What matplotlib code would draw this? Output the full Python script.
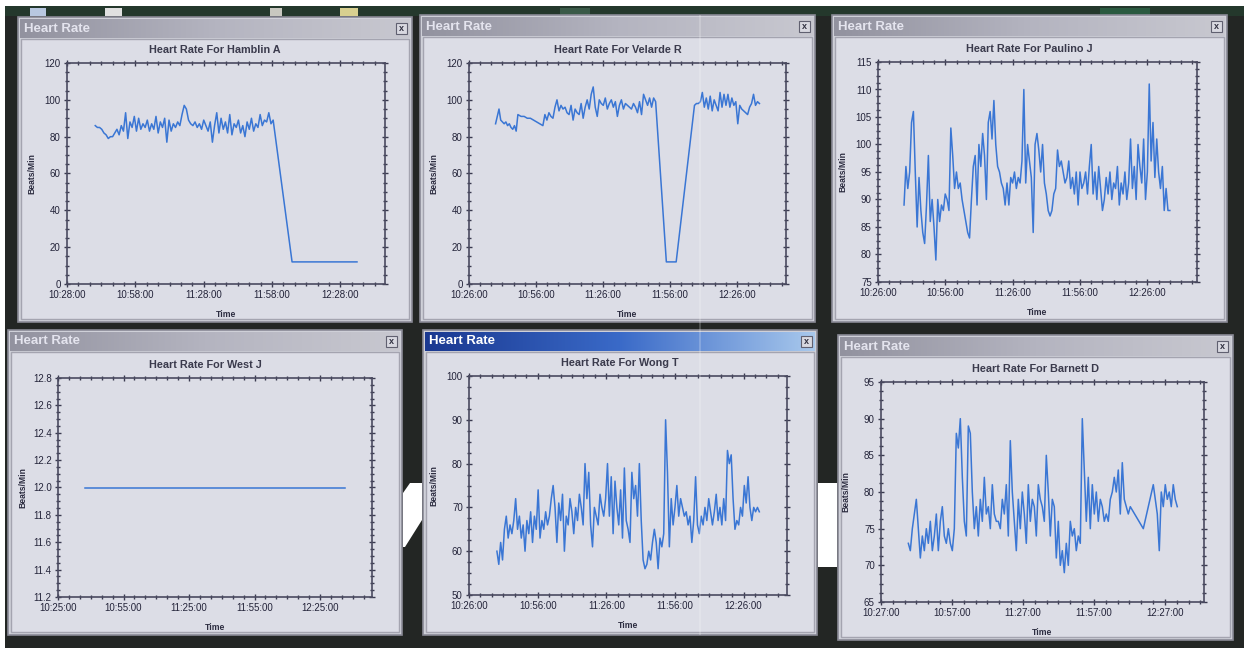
import numpy as np
import matplotlib
matplotlib.use("Agg")
import matplotlib.pyplot as plt
from matplotlib.patches import Rectangle, Polygon
from matplotlib.colors import LinearSegmentedColormap
from matplotlib.ticker import MultipleLocator, AutoMinorLocator, FuncFormatter, FormatStrFormatter

plt.rcParams['font.family'] = ['Liberation Sans', 'DejaVu Sans']

W, H = 1244, 648

# ---- data (times are minutes after midnight) ----
hamblin_t = (640.4, 718.5)
hamblin_hr = [86, 85, 85, 84, 82, 81, 79, 80, 80, 82, 84, 81, 86, 83, 93, 79, 88, 85, 91, 83,
              90, 84, 87, 85, 89, 83, 87, 84, 91, 82, 88, 85, 90, 77, 89, 83, 87, 85, 88, 86,
              92, 97, 95, 89, 87, 86, 88, 85, 87, 84, 89, 86, 83, 88, 77, 86, 93, 82, 90, 84,
              88, 82, 92, 81, 87, 85, 89, 82, 86, 80, 88, 84, 90, 83, 87, 85, 92, 86, 89, 88,
              93, 87, 89]
hamblin_tail_t = [726.8, 755.3]
hamblin_tail_hr = [12, 12]

velarde_t1 = (637.9, 647.9)
velarde_hr1 = [87, 91, 95, 89, 88, 87, 88, 86, 87, 85, 84, 86, 83, 92]
velarde_t2 = (647.9, 659.1)
velarde_hr2 = [92, 91, 91, 90, 90, 89, 88, 87, 86]
velarde_t3 = (659.1, 709.6)
velarde_hr3 = [86, 92, 89, 93, 91, 90, 96, 100, 94, 97, 95, 96, 93, 92, 97, 89, 95, 93, 92, 98,
               90, 96, 100, 95, 103, 107, 96, 91, 100, 98, 97, 101, 95, 98, 100, 96, 99, 91, 97, 100,
               95, 98, 97, 96, 95, 98, 96, 93, 99, 92, 103, 100, 97, 101, 96, 101, 99]
velarde_gap_t = [714.4, 718.8]
velarde_gap_hr = [12, 12]
velarde_t4 = (727.0, 756.1)
velarde_hr4 = [97, 98, 98, 99, 104, 96, 101, 95, 102, 94, 100, 97, 94, 104, 96, 103, 97, 103, 96, 101,
               97, 99, 87, 97, 95, 94, 93, 92, 96, 98, 103, 97, 99, 98]

paulino_t = (637.6, 756.0)
paulino_hr = [89, 96, 92, 95, 104, 106, 95, 85, 94, 88, 84, 82, 89, 98, 86, 90, 85, 79,
              90, 86, 89, 88, 91, 90, 88, 103, 98, 92, 95, 92, 93, 90, 88, 86, 84, 83,
              90, 96, 98, 89, 100, 96, 102, 98, 90, 104, 106, 101, 108, 100, 96, 95, 93, 92,
              89, 93, 89, 94, 93, 95, 92, 94, 93, 97, 110, 93, 100, 97, 94, 84, 100, 102,
              99, 95, 100, 93, 91, 88, 87, 88, 91, 92, 99, 96, 97, 95, 93, 94, 97, 92,
              94, 91, 95, 89, 95, 92, 93, 95, 91, 96, 100, 91, 95, 90, 96, 92, 88, 90,
              94, 91, 95, 90, 93, 92, 96, 89, 93, 91, 95, 90, 93, 101, 92, 96, 90, 100,
              96, 93, 101, 90, 95, 111, 97, 104, 94, 101, 95, 92, 96, 88, 92, 88, 88]

west_t = [637.4, 756.4]
west_hr = [12.0, 12.0]

wong_t = (638.2, 752.9)
wong_hr = [60, 57, 62, 58, 65, 68, 63, 66, 64, 67, 72, 65, 68, 63, 66, 60, 67, 64,
           69, 62, 68, 65, 74, 63, 67, 65, 69, 66, 68, 72, 75, 70, 62, 71, 67, 73,
           60, 68, 66, 72, 69, 64, 70, 67, 73, 70, 66, 80, 72, 78, 66, 61, 70, 68,
           66, 73, 70, 68, 72, 80, 68, 77, 64, 76, 70, 66, 74, 63, 79, 67, 65, 62,
           78, 72, 75, 68, 80, 67, 58, 56, 57, 60, 58, 62, 65, 62, 56, 63, 61, 64,
           90, 78, 61, 72, 66, 70, 75, 68, 72, 70, 68, 69, 66, 68, 62, 67, 77, 66,
           64, 68, 66, 70, 67, 72, 69, 66, 69, 73, 67, 70, 66, 72, 67, 83, 80, 82,
           72, 65, 67, 66, 70, 68, 75, 71, 77, 70, 67, 70, 69, 70, 69]

barnett_t = (638.55, 732.35)
barnett_hr = [73, 72, 75, 77, 79, 75, 71, 74, 72, 75, 73, 76, 72, 74, 77, 72, 76,
              78, 74, 73, 75, 73, 72, 75, 88, 86, 90, 82, 76, 74, 89, 88, 80, 75,
              78, 74, 79, 76, 82, 77, 78, 75, 81, 77, 76, 76, 75, 79, 77, 81, 74,
              87, 80, 76, 72, 79, 75, 80, 77, 73, 81, 76, 79, 78, 74, 81, 79, 78,
              76, 85, 80, 74, 79, 78, 71, 76, 70, 72, 69, 73, 70, 76, 74, 75, 72,
              74, 73, 90, 83, 76, 82, 75, 81, 77, 80, 76, 79, 78, 76, 77, 76, 79,
              80, 82, 80, 83, 77, 84, 79, 78, 77, 78]
barnett_gap_t = [737.85]
barnett_gap_hr = [75]
barnett_t2 = (742.07, 752.2)
barnett_hr2 = [81, 79, 77, 72, 80, 78, 81, 79, 80, 78, 81, 79, 78]

names = ["Hamblin A", "Velarde R", "Paulino J", "West J", "Wong T", "Barnett D"]


def seg(span, vals):
    return np.linspace(span[0], span[1], len(vals)), np.asarray(vals, float)


def join(*parts):
    return np.concatenate([p[0] for p in parts]), np.concatenate([p[1] for p in parts])


series = [
    join(seg(hamblin_t, hamblin_hr), (np.array(hamblin_tail_t), np.array(hamblin_tail_hr, float))),
    join(seg(velarde_t1, velarde_hr1), seg(velarde_t2, velarde_hr2), seg(velarde_t3, velarde_hr3),
         (np.array(velarde_gap_t), np.array(velarde_gap_hr, float)), seg(velarde_t4, velarde_hr4)),
    seg(paulino_t, paulino_hr),
    (np.array(west_t), np.array(west_hr)),
    seg(wong_t, wong_hr),
    join(seg(barnett_t, barnett_hr), (np.array(barnett_gap_t), np.array(barnett_gap_hr, float)),
         seg(barnett_t2, barnett_hr2)),
]

# window frames and plot boxes in pixels (left, top, right, bottom)
frames = [(18, 17, 412, 322), (420, 15, 815, 322), (832, 15, 1227, 322),
          (8, 330, 402, 635), (423, 330, 817, 635), (838, 335, 1233, 640)]
boxes = [(67, 63, 385, 284), (469, 63, 786, 284), (878, 62, 1197, 282),
         (58, 378, 372, 597), (469, 376, 787, 595), (881, 382, 1204, 602)]
xlims = [(628, 767.6), (626, 768), (626, 768.1), (625, 768.8), (626, 765), (627, 763.5)]
ylims = [(0, 120), (0, 120), (75, 115), (11.2, 12.8), (50, 100), (65, 95)]
ysteps = [20, 20, 5, 0.2, 10, 5]

fig = plt.figure(figsize=(W / 100, H / 100), dpi=100)
fig.patch.set_facecolor('#232624')


def rect(x0, y0, x1, y1, z=-2, **kw):
    r = Rectangle((x0 / W, 1 - y1 / H), (x1 - x0) / W, (y1 - y0) / H,
                  transform=fig.transFigure, zorder=z, **kw)
    fig.patches.append(r)
    return r


# desktop bits
rect(0, 0, W, 6, facecolor='white', lw=0)
rect(0, 0, 5, H, facecolor='white', lw=0)
rect(5, 6, W, 16, facecolor='#24382c', lw=0)
for x0, x1, c in [(30, 46, '#b8c8e0'), (105, 122, '#e0e0e0'), (270, 282, '#c8c8c0'),
                  (340, 358, '#d8d090'), (560, 590, '#3a5a48'), (1100, 1150, '#2a5a40')]:
    rect(x0, 8, x1, 16, facecolor=c, lw=0)
rect(818, 483, 837, 567, facecolor='white', lw=0)
fig.patches.append(Polygon([(403 / W, 1 - 493 / H), (410 / W, 1 - 483 / H), (422 / W, 1 - 483 / H),
                            (422 / W, 1 - 520 / H), (405 / W, 1 - 547 / H), (403 / W, 1 - 547 / H)],
                           closed=True, transform=fig.transFigure, facecolor='white', lw=0, zorder=-2))


def window(frame, active):
    x0, y0, x1, y1 = frame
    rect(x0, y0, x1, y1, z=-1, facecolor='#cfd0d8', edgecolor='#8a8a96', lw=1.2)
    rect(x0 + 3, y0 + 22, x1 - 3, y1 - 3, z=-1, facecolor='#dcdde6', edgecolor='#a4a4b0', lw=1)
    tb = fig.add_axes([(x0 + 2) / W, 1 - (y0 + 21) / H, (x1 - x0 - 4) / W, 19 / H])
    if active:
        cmap = LinearSegmentedColormap.from_list('tb', ['#1a3890', '#3a6ac8', '#a8c8ec'])
        tc = 'white'
    else:
        cmap = LinearSegmentedColormap.from_list('tb', ['#92929f', '#b4b4c0', '#c8c8d0'])
        tc = '#e4e4ee'
    tb.imshow(np.linspace(0, 1, 256).reshape(1, -1), aspect='auto', cmap=cmap, extent=[0, 1, 0, 1])
    tb.set_xlim(0, 1)
    tb.set_ylim(0, 1)
    tb.axis('off')
    tb.text(0.01, 0.5, 'Heart Rate', color=tc, fontsize=9.5, fontweight='bold', va='center')
    bw = 11 / (x1 - x0 - 4)
    tb.add_patch(Rectangle((1 - bw - 3 / (x1 - x0), 0.2), bw, 0.6, facecolor='#d8d8e0',
                           edgecolor='#606070', lw=0.8))
    tb.text(1 - bw / 2 - 3 / (x1 - x0), 0.5, 'x', fontsize=6.5, fontweight='bold',
            color='#303040', ha='center', va='center')


def tfmt(v, pos):
    m = int(round(v))
    return f"{m // 60}:{m % 60:02d}:00"


for i in range(6):
    window(frames[i], active=(i == 4))
    l, t, r, b = boxes[i]
    ax = fig.add_axes([l / W, 1 - b / H, (r - l) / W, (b - t) / H])
    ax.set_facecolor('#dcdde6')
    tt, hr = series[i]
    ax.plot(tt, hr, color='#3a76d4', lw=1.1)
    ax.set_xlim(*xlims[i])
    ax.set_ylim(*ylims[i])
    x0 = xlims[i][0]
    ax.xaxis.set_major_locator(MultipleLocator(30, offset=x0 % 30))
    ax.xaxis.set_minor_locator(MultipleLocator(5, offset=x0 % 5))
    ax.xaxis.set_major_formatter(FuncFormatter(tfmt))
    ax.yaxis.set_major_locator(MultipleLocator(ysteps[i]))
    ax.yaxis.set_minor_locator(AutoMinorLocator(4))
    if i == 3:
        ax.yaxis.set_major_formatter(FormatStrFormatter('%.1f'))
    else:
        ax.yaxis.set_major_formatter(FormatStrFormatter('%d'))
    ax.tick_params(which='major', direction='inout', length=5, width=1, color='#3a3a50',
                   labelsize=7, labelcolor='#24243a', top=True, right=True, pad=2)
    ax.tick_params(which='minor', direction='inout', length=2.5, width=1, color='#3a3a50',
                   top=True, right=True)
    for s in ax.spines.values():
        s.set_color('#4a4a60')
        s.set_linewidth(1.2)
    ax.set_ylabel('Beats/Min', fontsize=6.2, fontweight='bold', color='#2c2c40')
    ax.yaxis.set_label_coords(-31 / (r - l), 0.5)
    ax.set_xlabel('Time', fontsize=6.2, fontweight='bold', color='#2c2c40')
    ax.xaxis.set_label_coords(0.5, -26 / (b - t))
    fx0, fy0, fx1, fy1 = frames[i]
    fig.text((fx0 + fx1) / 2 / W, 1 - (t - 13) / H, 'Heart Rate For ' + names[i],
             fontsize=7.8, fontweight='bold', color='#3a3a4c', ha='center', va='center')

# faint vertical scan streak across the middle column
rect(699, 15, 701, 635, z=5, facecolor='white', alpha=0.2, lw=0)

fig.savefig('out.png', dpi=100, facecolor=fig.get_facecolor())
